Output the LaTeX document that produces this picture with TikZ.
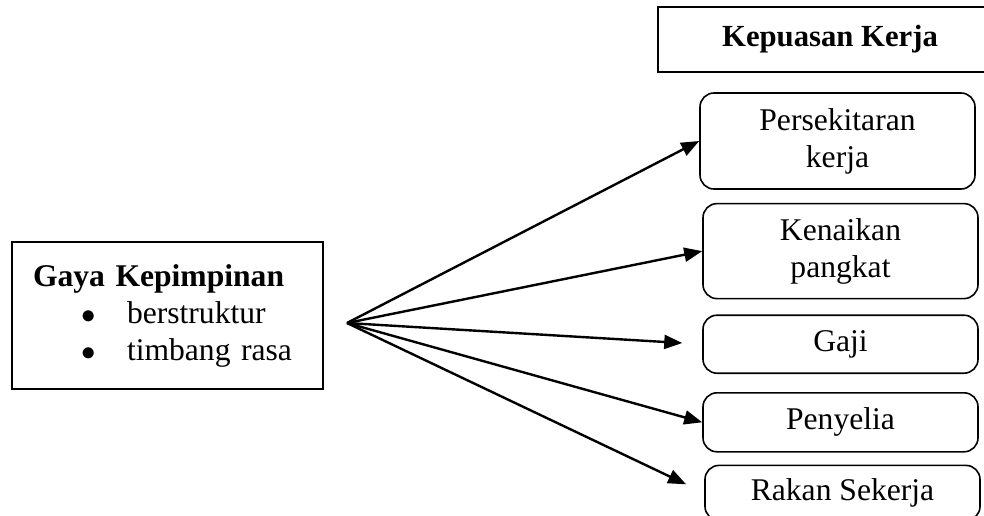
\documentclass[tikz,border=0pt]{standalone}
\usepackage{fontspec}
\setmainfont{Liberation Serif}
\usetikzlibrary{positioning,arrows.meta}

\begin{document}
\begin{tikzpicture}[
  x=0.5pt, y=-0.5pt,
  every node/.style={font=\fontsize{15.8pt}{18.5pt}\selectfont},
  plainbox/.style={rectangle, draw=black, line width=0.8pt},
  roundbox/.style={rectangle, rounded corners=7pt, draw=black, line width=0.8pt,
                   minimum width=137.5pt, align=center, inner sep=0pt},
  every edge/.style={  % arrows from the leadership box
            draw,
            ->,>={Triangle[length=9pt,width=7pt]},
            line width=1.2pt}
]
  \path[use as bounding box] (0,0) rectangle (984,515);
  \clip (0,0) rectangle (984,515);

  \node[plainbox, minimum width=155.5pt, minimum height=73.5pt, text width=134.5pt,
        inner xsep=10.5pt, align=left] (gaya) at (167.5,315.5)
        {\textbf{Gaya Kepimpinan}\\
         \hspace*{24pt}\makebox[23pt][l]{$\bullet$}berstruktur\\
         \hspace*{24pt}\makebox[23pt][l]{$\bullet$}timbang rasa};
  \coordinate (src) at (347,323);

  \node[plainbox, minimum width=172pt, minimum height=32.5pt,
        font=\fontsize{15.35pt}{18pt}\selectfont] (kepuasan) at (830,39.5) {\textbf{Kepuasan Kerja}};

  \node[roundbox, minimum height=48pt] (pers) at (837.5,141) {Persekitaran\\kerja};
  \node[roundbox, minimum height=47.5pt] (naik) [below=6.5pt of pers, xshift=1.5pt] {Kenaikan\\pangkat};
  \node[roundbox, minimum height=29pt]   (gaji) [below=7.5pt of naik] {Gaji};
  \node[roundbox, minimum height=29.5pt] (peny) [below=9pt of gaji] {Penyelia};
  \node[roundbox, minimum height=27.5pt] (rakan) [below=6pt of peny, xshift=1pt] {Rakan Sekerja};

  \draw (src) edge (pers.west);
  \draw (src) edge (naik.west);
  \draw (src) edge [shorten >=10pt] (gaji.west);
  \draw (src) edge (peny.west);
  \draw (src) edge [shorten >=10pt] (rakan.west);

\end{tikzpicture}
\end{document}
